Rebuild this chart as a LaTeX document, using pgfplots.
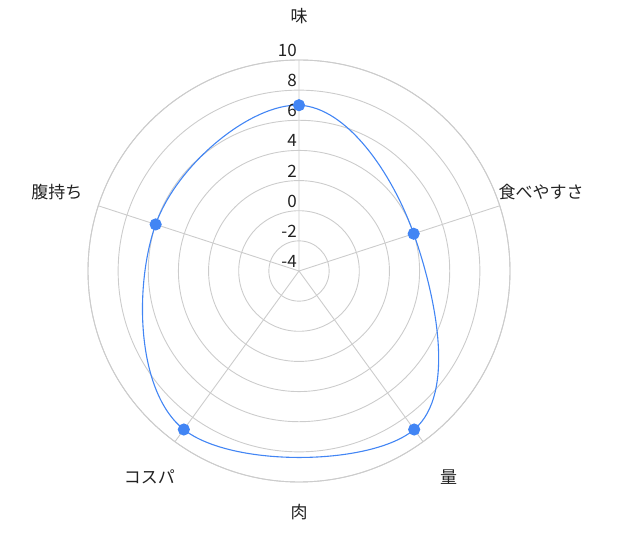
\documentclass[border=0pt]{standalone}
\usepackage{pgfplots}
\pgfplotsset{compat=1.18}
\usepackage{pgfplotstable}
\usepgfplotslibrary{polar}
\usepackage{fontspec}
\setmainfont{Noto Sans CJK JP}
\definecolor{gblue}{HTML}{4285F4}
\definecolor{ringgray}{HTML}{CCCCCC}
\definecolor{txt}{HTML}{222222}

% angle in degrees, score (radial axis runs from -4 to 10)
\pgfplotstableread{
angle v
90 7
18 4
306 9
234 9
162 6
}\scores

\begin{document}
\begin{tikzpicture}
\useasboundingbox (0,0) rectangle (620pt,537pt);
\begin{polaraxis}[
    at={(299pt,266pt)}, anchor=center,
    scale only axis,
    width=422pt, height=422pt,
    xmin=0, xmax=360,
    ymin=0, ymax=14,
    xtick={18,90,162,234,306},
    ytick={0,2,...,14},
    xticklabels={}, yticklabels={},
    major tick length=0pt,
    grid=major,
    major grid style={draw=ringgray, line width=0.9pt},
    x axis line style={draw=ringgray, line width=0.9pt},
    y axis line style={draw=none},
    clip=false,
    font=\fontsize{17}{20}\selectfont,
]
\addplot[color=gblue, line width=1.1pt, smooth cycle, tension=0.67,
    mark=*, mark size=5.5pt, mark options={fill=gblue, draw=gblue}]
    table[x=angle, y expr=\thisrow{v}+4] {\scores};

% radial tick labels along the top spoke
\foreach \r/\lab in {0/-4,2/-2,4/0,6/2,8/4,10/6,12/8,14/10}{
    \edef\temp{\noexpand\node[anchor=east, text=txt, xshift=-1pt, yshift=9.5pt, inner sep=1pt]
        at (axis cs:90,\r) {\lab};}
    \temp
}
% category labels
\node[text=txt] at (axis cs:90,16.9) {味};
\node[text=txt] at (axis cs:18,16.9) {食べやすさ};
\node[text=txt] at (axis cs:306,16.9) {量};
\node[text=txt] at (axis cs:234,16.9) {コスパ};
\node[text=txt] at (axis cs:162,16.9) {腹持ち};
\node[text=txt] at (axis cs:270,16.0) {肉};
\end{polaraxis}
\end{tikzpicture}
\end{document}
